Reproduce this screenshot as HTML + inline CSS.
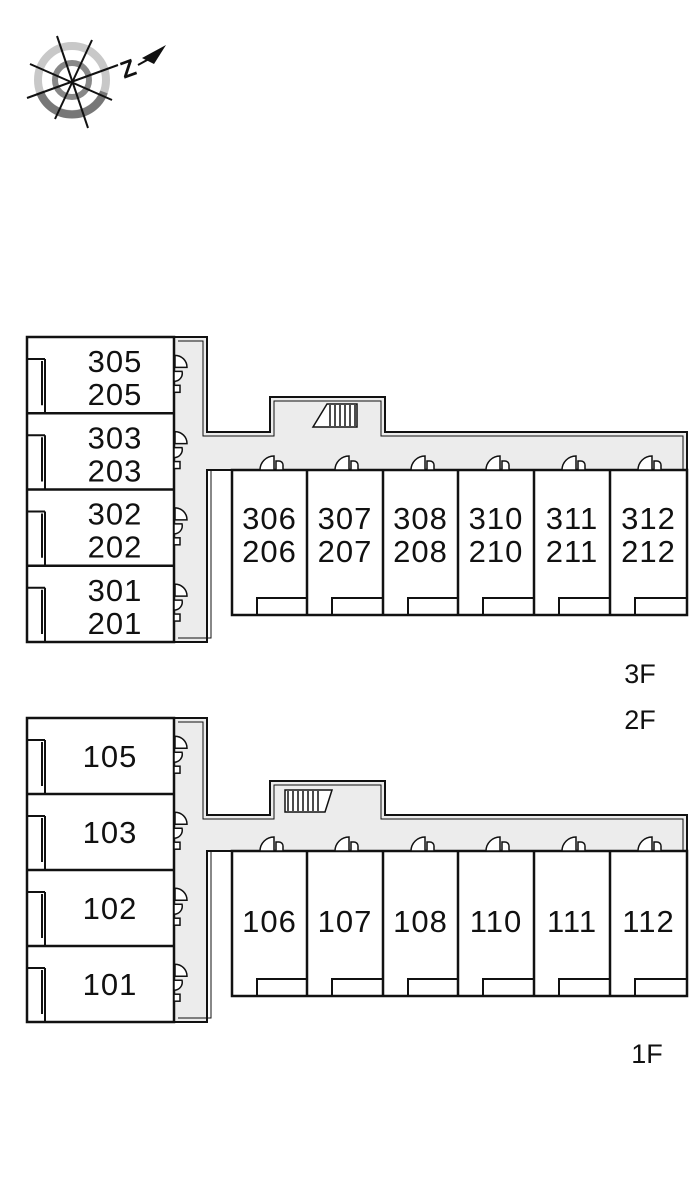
<!DOCTYPE html>
<html><head><meta charset="utf-8"><style>
html,body{margin:0;padding:0;background:#fff;width:700px;height:1201px;overflow:hidden}
svg{display:block}
text{font-family:"Liberation Sans",sans-serif;fill:#111}
</style></head><body>
<svg id="s" width="700" height="1201" viewBox="0 0 700 1201" xmlns="http://www.w3.org/2000/svg">
<g id="compass">
<circle cx="72" cy="80" r="34" fill="none" stroke="#c8c8c8" stroke-width="8"/>
<path d="M40 92 A34 34 0 0 0 104 92" fill="none" stroke="#777" stroke-width="8"/>
<circle cx="72" cy="80" r="17" fill="none" stroke="#888" stroke-width="6"/>
<g stroke="#111" stroke-width="2" fill="none">
<line x1="57" y1="36" x2="88" y2="128"/><line x1="92" y1="40" x2="55" y2="119"/>
<line x1="30" y1="64" x2="112" y2="100"/><line x1="27" y1="98" x2="118" y2="65"/>
</g>
<text x="120" y="76" font-size="24" font-weight="bold" transform="rotate(-20 130 66)">Z</text>
<polygon points="142,58 166,45 154,64" fill="#111"/>
<line x1="138" y1="65" x2="158" y2="54" stroke="#111" stroke-width="2"/>
</g>
</svg>
<script>
var s=document.getElementById('s'),h='';
function L(x1,y1,x2,y2,w){h+='<line x1="'+x1+'" y1="'+y1+'" x2="'+x2+'" y2="'+y2+'" stroke="#111" stroke-width="'+(w||2.5)+'"/>';}
function T(x,y,t,fs){h+='<text x="'+x+'" y="'+y+'" font-size="'+(fs||31)+'" letter-spacing="'+(fs?0:1)+'" text-anchor="middle">'+t+'</text>';}
function doorV(x,y){
 h+='<path d="M'+x+' '+y+' h8 a8 8 0 0 1 -8 10 z" fill="#fff" stroke="#111" stroke-width="1.5"/>';
 h+='<rect x="'+x+'" y="'+(y+14)+'" width="6" height="7" fill="#fff" stroke="#111" stroke-width="1.5"/>';
 h+='<path d="M'+(x+1)+' '+(y-4)+' a12 12 0 0 1 12 12 h-12 z" fill="#fff" stroke="#111" stroke-width="1.5" transform="translate(0,-12)"/>';
}
function doorH(x,y){
 h+='<path d="M'+x+' '+y+' a14 14 0 0 1 14 -14 v14 z" fill="#fff" stroke="#111" stroke-width="1.5"/>';
 h+='<path d="M'+(x+16)+' '+y+' v-9 h3 a4 4 0 0 1 4 4 v5 z" fill="#fff" stroke="#111" stroke-width="1.5"/>';
}
function block(top,bot,ctop,cbot,bump,rtop,rbot){
 var rows=[top,top+(bot-top)*0.25,top+(bot-top)*0.5,top+(bot-top)*0.75,bot];
 var p='M174 '+top+' H207 V'+ctop+' H270 V'+bump+' H385 V'+ctop+' H687 V'+rtop+' H207 V'+bot+' H174 Z';
 h+='<path d="'+p+'" fill="#ececec" stroke="#111" stroke-width="2"/>';
 h+='<path d="M178 '+(top+4)+' H203 V'+(ctop+4)+' H274 V'+(bump+4)+' H381 V'+(ctop+4)+' H683 V'+(rtop)+'" fill="none" stroke="#111" stroke-width="1"/>';
 h+='<path d="M211 '+(rtop)+' V'+(bot-4)+' H178" fill="none" stroke="#111" stroke-width="1"/>';
 h+='<rect x="27" y="'+top+'" width="147" height="'+(bot-top)+'" fill="#fff" stroke="#111" stroke-width="2.5"/>';
 for(var i=0;i<4;i++){
  var a=rows[i],b=rows[i+1];
  if(i>0)L(27,a,174,a);
  L(27,a+22,45,a+22,2);L(45,a+22,45,b,2);L(42,a+24,42,b-8,2);
  doorV(174,a+(b-a)*0.45);
 }
 h+='<rect x="232" y="'+rtop+'" width="455" height="'+(rbot-rtop)+'" fill="#fff" stroke="#111" stroke-width="2.5"/>';
 var xs=[232,307,383,458,534,610,687];
 for(var j=0;j<6;j++){
  if(j>0)L(xs[j],rtop,xs[j],rbot);
  h+='<path d="M'+(xs[j]+25)+' '+rbot+' V'+(rbot-17)+' H'+xs[j+1]+'" fill="none" stroke="#111" stroke-width="2"/>';
  doorH(xs[j]+28,rtop);
 }
 return {rows:rows,xs:xs};
}
var u=block(337,642,432,470,397,470,615);
h+='<g stroke="#111" stroke-width="1.5" fill="#fff"><polygon points="313,427 357,427 357,404 327,404"/></g>';
for(var k=0;k<6;k++)L(330+k*5,405,330+k*5,426,1.5);
var ul=[['305','205'],['303','203'],['302','202'],['301','201']];
for(var i=0;i<4;i++){var a=u.rows[i],b=u.rows[i+1],m=(a+b)/2;T(115,m-3,ul[i][0]);T(115,m+30,ul[i][1]);}
var ur=[['306','206'],['307','207'],['308','208'],['310','210'],['311','211'],['312','212']];
for(var j=0;j<6;j++){var c=(u.xs[j]+u.xs[j+1])/2;T(c,529,ur[j][0]);T(c,562,ur[j][1]);}
var d=block(718,1022,815,851,781,851,996);
h+='<g stroke="#111" stroke-width="1.5" fill="#fff"><polygon points="285,790 332,790 325,812 285,812"/></g>';
for(var k=0;k<7;k++)L(288+k*5,791,288+k*5,811,1.5);
var dl=['105','103','102','101'];
for(var i=0;i<4;i++){var a=d.rows[i],b=d.rows[i+1];T(110,(a+b)/2+11,dl[i]);}
var dr=['106','107','108','110','111','112'];
for(var j=0;j<6;j++){T((d.xs[j]+d.xs[j+1])/2,932,dr[j]);}
T(640,683,'3F',27);T(640,729,'2F',27);T(647,1063,'1F',27);
s.insertAdjacentHTML('beforeend',h);
</script>
</body></html>
